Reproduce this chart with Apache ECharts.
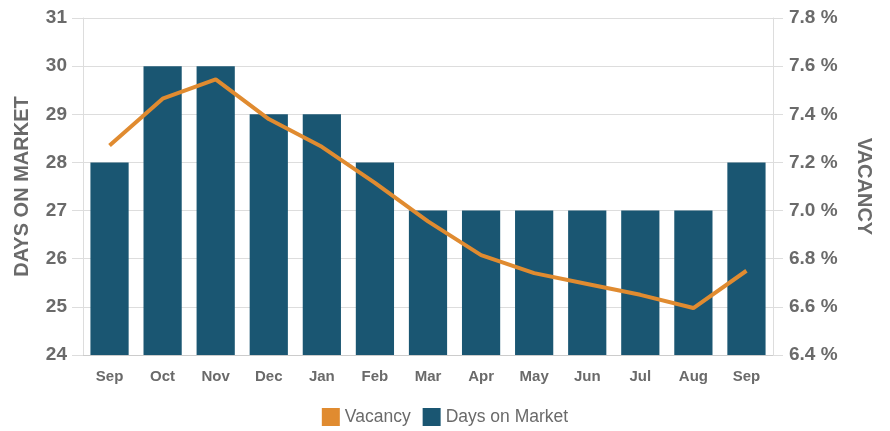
<!DOCTYPE html>
<html><head><meta charset="utf-8">
<script src="https://cdn.jsdelivr.net/npm/echarts@6/dist/echarts.min.js"></script>
<style>html,body{margin:0;padding:0;background:#fff}#c{width:890px;height:431px}</style>
</head><body><div id="c"></div>
<script>
var categories = ['Sep','Oct','Nov','Dec','Jan','Feb','Mar','Apr','May','Jun','Jul','Aug','Sep'];
var daysOnMarket = [28,30,30,29,29,28,27,27,27,27,27,27,28];
var vacancy = [7.27,7.465,7.545,7.38,7.265,7.115,6.955,6.815,6.74,6.695,6.65,6.595,6.75];
var leftTicks = {min:24,max:31,interval:1};
var rightTicks = {min:6.4,max:7.8,interval:0.2};

var gray = '#6a6a6a';
var chart = echarts.init(document.getElementById('c'), null, {renderer:'canvas'});
chart.setOption({
  animation:false,
  textStyle:{fontFamily:'Liberation Sans, Arial, sans-serif'},
  legend:{
    bottom:0, left:'center', itemWidth:18, itemHeight:18, itemGap:12,
    textStyle:{color:gray,fontSize:17.5,fontFamily:'Liberation Sans, Arial, sans-serif'},
    data:[{name:'Vacancy',icon:'rect'},{name:'Days on Market',icon:'rect'}]
  },
  grid:{left:83,right:117,top:18,bottom:76},
  xAxis:{
    type:'category', data:categories,
    axisLine:{show:true,lineStyle:{color:'#cccccc'}},
    axisTick:{show:false},
    axisLabel:{color:gray,fontSize:15,fontWeight:'bold',margin:14}
  },
  yAxis:[{
    type:'value', min:leftTicks.min, max:leftTicks.max, interval:leftTicks.interval,
    name:'DAYS ON MARKET', nameLocation:'middle', nameGap:51, nameRotate:90,
    nameTextStyle:{color:gray,fontSize:20,fontWeight:'bold'},
    axisLine:{show:true,lineStyle:{color:'#dddddd'}},
    axisTick:{show:true,length:11,lineStyle:{color:'#dddddd'}},
    axisLabel:{color:gray,fontSize:19,fontWeight:'bold',margin:16},
    splitLine:{lineStyle:{color:'#dddddd'}}
  },{
    type:'value', min:rightTicks.min, max:rightTicks.max, interval:rightTicks.interval,
    name:'VACANCY', nameLocation:'middle', nameGap:81, nameRotate:-90,
    nameTextStyle:{color:gray,fontSize:20,fontWeight:'bold'},
    axisLine:{show:true,lineStyle:{color:'#dddddd'}},
    axisTick:{show:true,length:10,lineStyle:{color:'#dddddd'}},
    axisLabel:{color:gray,fontSize:19,fontWeight:'bold',margin:16,
      formatter:function(v){return v.toFixed(1)+' %';}},
    splitLine:{show:false}
  }],
  series:[{
    name:'Days on Market', type:'bar', yAxisIndex:0, data:daysOnMarket,
    barWidth:'72%', itemStyle:{color:'#1a5672'}
  },{
    name:'Vacancy', type:'line', yAxisIndex:1, data:vacancy,
    symbol:'none', lineStyle:{color:'#e08b30',width:4}, itemStyle:{color:'#e08b30'}, z:5
  }]
});
</script></body></html>
